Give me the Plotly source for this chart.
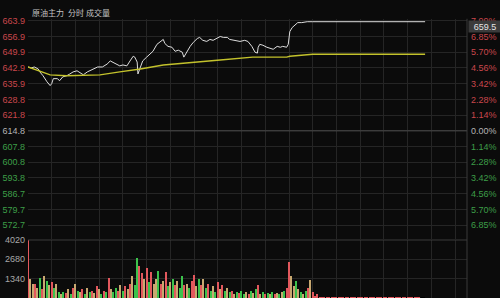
import plotly.graph_objects as go

# ---------------- data ----------------
header = ["原油主力", "分时", "成交量"]
last_price_tag = "659.5"

price_labels = ["663.9", "656.9", "649.9", "642.9", "635.9", "628.8", "621.8",
                "614.8", "607.8", "600.8", "593.8", "586.7", "579.7", "572.7"]
pct_labels = ["7.99%", "6.85%", "5.70%", "4.56%", "3.42%", "2.28%", "1.14%",
              "0.00%", "1.14%", "2.28%", "3.42%", "4.56%", "5.70%", "6.85%"]
vol_labels = ["1340", "2680", "4020"]
ref_price = 614.8

# trading-minute index (0 .. 555) and price
price_t = [0, 4, 8, 13, 15, 19, 24, 28, 30, 32, 37, 40, 44, 49, 53, 57, 62, 66, 70, 75,
           78, 82, 88, 94, 100, 104, 107, 113, 116, 120, 125, 129, 133, 135, 138, 139, 142,
           144, 145, 150, 154, 158, 163, 167, 171, 173, 177, 182, 186, 190, 195, 197, 201,
           205, 209, 214, 217, 221, 226, 230, 234, 239, 243, 247, 252, 255, 262, 268, 274,
           278, 283, 287, 290, 291, 293, 297, 302, 306, 310, 315, 319, 322, 327, 329, 331,
           334, 338, 341, 346, 353, 360, 502]
price_v = [643.3, 642.9, 643.3, 642.4, 641.1, 639.4, 636.7, 635.0, 635.9, 638.1, 638.1,
           637.2, 638.9, 639.4, 640.2, 641.1, 641.6, 640.7, 639.8, 641.1, 641.6, 642.4,
           643.3, 643.3, 644.6, 646.0, 645.5, 644.6, 643.8, 644.2, 643.8, 646.0, 648.1,
           647.7, 645.5, 640.2, 643.3, 645.5, 646.0, 647.7, 649.0, 650.3, 653.4, 654.7,
           655.6, 653.8, 652.5, 652.1, 650.3, 650.8, 649.9, 647.7, 650.3, 652.5, 654.3,
           656.0, 656.5, 655.2, 654.7, 655.6, 655.2, 656.0, 656.9, 656.5, 656.5, 655.6,
           655.2, 654.7, 655.2, 654.7, 652.5, 649.9, 649.5, 652.1, 653.4, 653.0, 652.1,
           651.7, 651.2, 652.5, 652.1, 652.5, 652.1, 653.4, 659.1, 660.9, 662.2, 663.1,
           663.1, 663.5, 663.5, 663.5]

avg_t = [0, 15, 28, 49, 91, 116, 129, 142, 171, 209, 243, 284, 327, 331, 360, 502]
avg_v = [643.3, 641.6, 639.8, 639.4, 639.8, 641.1, 641.6, 642.4, 644.2, 645.5, 646.4,
         647.7, 647.7, 648.1, 649.0, 649.0]

vol_t = list(range(0, 502, 3))
vol_v = [4020, 1300, 1000, 950, 700, 1400, 600, 1550, 1200, 900, 1100, 700, 1000, 400,
         300, 450, 350, 600, 300, 700, 1000, 500, 400, 600, 300, 700, 400, 500, 350, 800,
         600, 300, 500, 450, 1400, 600, 400, 700, 500, 900, 500, 800, 600, 1000, 1500,
         900, 2750, 2200, 1700, 1300, 2100, 1100, 1800, 1000, 1300, 1900, 1000, 1200, 1800,
         800, 1100, 1300, 900, 1200, 700, 1500, 900, 1000, 700, 1200, 1600, 800, 1300, 900,
         1300, 700, 1000, 500, 800, 400, 1100, 600, 900, 500, 700, 400, 500, 300, 450, 350,
         500, 300, 400, 250, 500, 350, 600, 900, 300, 400, 250, 350, 300, 400, 250, 350,
         300, 400, 500, 700, 2500, 1500, 800, 1150, 600, 400, 300, 500, 700, 1250, 400, 150,
         250, 40, 50, 40, 40, 50, 40, 40, 50, 40, 40, 50, 40, 40, 50, 40, 40, 50, 40, 40,
         50, 40, 40, 50, 40, 40, 50, 40, 40, 50, 40, 40, 50, 40, 40, 50, 40, 40, 50, 40, 40,
         50, 40, 40, 50, 40]
vol_dir = ["u", "f", "f", "u", "f", "d", "u", "f", "d", "f", "u", "d", "f", "d", "f", "d",
           "u", "f", "d", "u", "f", "d", "f", "u", "d", "f", "d", "u", "f", "u", "f", "d",
           "u", "d", "u", "f", "d", "d", "u", "f", "d", "u", "f", "u", "f", "d", "d", "u",
           "u", "f", "u", "d", "u", "f", "f", "d", "u", "f", "u", "d", "f", "d", "u", "f",
           "d", "d", "u", "f", "d", "u", "u", "f", "d", "u", "f", "d", "u", "d", "f", "d",
           "u", "f", "u", "d", "f", "d", "u", "f", "d", "u", "d", "d", "f", "u", "d", "f",
           "d", "u", "f", "d", "u", "d", "f", "d", "u", "f", "d", "f", "d", "u", "u", "f",
           "f", "d", "f", "d", "f", "d", "u", "f", "u", "u", "u", "u", "u", "u", "u", "u",
           "u", "u", "u", "u", "u", "u", "u", "u", "u", "u", "u", "u", "u", "u", "u", "u",
           "u", "u", "u", "u", "u", "u", "u", "u", "u", "u", "u", "u", "u", "u", "u", "u",
           "u", "u", "u", "u", "u", "u"]

session_minutes = 555
grid_step = 30

# ---------------- style / layout ----------------
W, H = 500, 298
L, R = 28, 33
BG = "#0b0b0b"
GRID = "#252525"
RED = "#c9474c"
GREEN = "#3d9e48"
GRAY = "#b4b4b4"
FONT = "Liberation Sans, Arial, sans-serif"
dir_color = {"u": "#e2585d", "d": "#3cc24c", "f": "#c8a870"}

px_per_unit = 16 / 7.02
price_top_px, price_bot_px = 14, 238
vol_top_px, vol_bot_px = 239, 298
zero_px = 128


def px_to_price(p):
    return ref_price + (zero_px - p) / px_per_unit


def py(p):
    return 1 - p / H


def colored(text, c):
    return f'<span style="color:{c}">{text}</span>'


n_up = price_labels.index("614.8")
left_text = [colored(t, RED if i < n_up else (GRAY if i == n_up else GREEN))
             for i, t in enumerate(price_labels)]
right_text = [colored(t, RED if i < n_up else (GRAY if i == n_up else GREEN))
              for i, t in enumerate(pct_labels)]
price_vals = [float(t) for t in price_labels]

fig = go.Figure()
fig.add_trace(go.Scatter(x=price_t, y=price_v, mode="lines",
                         line=dict(color="#dedede", width=1), xaxis="x", yaxis="y",
                         hoverinfo="skip"))
fig.add_trace(go.Scatter(x=avg_t, y=avg_v, mode="lines",
                         line=dict(color="#c3c22c", width=1.4), xaxis="x", yaxis="y",
                         hoverinfo="skip"))
fig.add_trace(go.Scatter(x=[0], y=[ref_price], mode="markers", marker=dict(opacity=0),
                         xaxis="x", yaxis="y3", hoverinfo="skip"))
fig.add_trace(go.Bar(x=vol_t, y=vol_v, width=1.6,
                     marker=dict(color=[dir_color[d] for d in vol_dir], line=dict(width=0)),
                     xaxis="x2", yaxis="y2", hoverinfo="skip"))

prange = [px_to_price(price_bot_px), px_to_price(price_top_px)]
xgrid = list(range(0, session_minutes + 1, grid_step))

common_x = dict(range=[0, session_minutes], tickvals=xgrid, showticklabels=False,
                showgrid=True, gridcolor=GRID, gridwidth=1, zeroline=False,
                showline=False, ticks="")

fig.update_layout(
    width=W, height=H,
    margin=dict(l=L, r=R, t=0, b=0),
    paper_bgcolor=BG, plot_bgcolor=BG,
    showlegend=False,
    font=dict(family=FONT, size=9, color=GRAY),
    xaxis=dict(**common_x, anchor="y", domain=[0, 1]),
    xaxis2=dict(**common_x, anchor="y2", domain=[0, 1]),
    yaxis=dict(domain=[py(price_bot_px), py(price_top_px)], range=prange,
               tickvals=price_vals, ticktext=left_text, showgrid=True, gridcolor=GRID,
               zeroline=False, ticks="", ticklabelstandoff=2,
               tickfont=dict(size=9, family=FONT)),
    yaxis3=dict(overlaying="y", side="right", range=prange, tickvals=price_vals,
                ticktext=right_text, showgrid=False, zeroline=False, ticks="",
                ticklabelstandoff=3, tickfont=dict(size=9, family=FONT)),
    yaxis2=dict(domain=[py(vol_bot_px), py(vol_top_px)], range=[0, 4020],
                tickvals=[float(v) for v in vol_labels], ticktext=vol_labels,
                showgrid=True, gridcolor=GRID, zeroline=False, ticks="",
                ticklabelstandoff=2, tickfont=dict(size=9, family=FONT, color="#a8a8a8")),
    bargap=0,
)

# zero-percent line and pane separator, right border
fig.add_shape(type="line", xref="x", yref="y", x0=0, x1=session_minutes,
              y0=ref_price, y1=ref_price, line=dict(color="#4a4a4a", width=1))
fig.add_shape(type="line", xref="paper", yref="paper", x0=0, x1=1,
              y0=py(vol_top_px), y1=py(vol_top_px), line=dict(color="#3c3c3c", width=1))
fig.add_shape(type="line", xref="paper", yref="paper", x0=1, x1=1, y0=0, y1=py(price_top_px),
              line=dict(color="#3a3a3a", width=1))

# header
hx = [30, 66, 84]
for t, x in zip(header, hx):
    fig.add_annotation(text=t, xref="paper", yref="paper", x=(x - L) / (W - L - R),
                       y=py(8), xanchor="left", yanchor="middle", showarrow=False,
                       font=dict(family="Noto Sans CJK SC", size=8, color="#c4c4c4"))

# last price tag
fig.add_annotation(text=last_price_tag, xref="paper", yref="paper", x=1, xshift=1,
                   y=py(21.5), xanchor="left", yanchor="middle", showarrow=False,
                   width=30, height=9, bgcolor="#3b3b3b", align="center",
                   font=dict(family=FONT, size=9, color="#e4e4e4"))

fig.write_html("out.html")
